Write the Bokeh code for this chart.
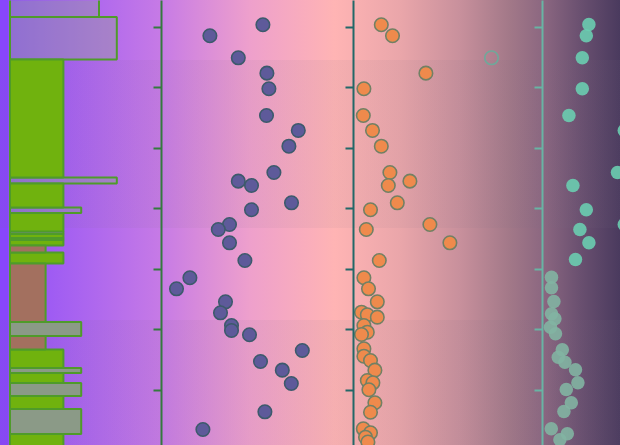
from bokeh.plotting import figure
from bokeh.layouts import row
from bokeh.models import Range1d, FixedTicker, ColumnDataSource
from bokeh.embed import file_html
from bokeh.resources import INLINE

# ---------------- data ----------------
tick_values = [0, 1, 2, 3, 4, 5, 6]
y_start, y_end = 6.909, -0.446          # bottom, top (values grow downward)

# panel 1: horizontal bars (row spans and lengths)
bar_top = [-0.612, -0.174, 0.529, 2.479, 2.579, 2.975, 3.066, 3.372, 3.413, 3.479, 3.512, 3.603,
           3.719, 3.901, 4.868, 5.099, 5.322, 5.628, 5.711, 5.876, 6.091, 6.306, 6.719]
bar_bottom = [-0.174, 0.529, 2.479, 2.579, 2.975, 3.066, 3.372, 3.413, 3.479, 3.512, 3.603, 3.719,
              3.901, 4.868, 5.099, 5.322, 5.628, 5.711, 5.876, 6.091, 6.306, 6.719, 7.157]
bar_value = [5, 6, 3, 6, 3, 4, 3, 3, 3, 3, 3, 2, 3, 2, 4, 2, 3, 4, 3, 4, 3, 4, 3]
bar_group = ["a", "a", "b", "a", "b", "a", "b", "a", "b", "a", "b", "c", "b", "c", "d", "c",
             "b", "d", "b", "d", "b", "d", "b"]

# panel 2: blue series
blue_x = [50.7, 24.2, 38.4, 52.7, 53.7, 52.5, 68.4, 63.7, 56.2, 38.4, 45.0, 65.0, 45.0, 34.0, 28.4,
          34.0, 41.7, 14.2, 7.5, 32.0, 29.5, 35.0, 35.0, 44.0, 70.4, 49.5, 60.4, 64.9, 51.7, 20.7]
blue_y = [-0.045, 0.137, 0.501, 0.755, 1.013, 1.455, 1.702, 1.962, 2.397, 2.540, 2.612, 2.898,
          3.013, 3.256, 3.339, 3.559, 3.851, 4.137, 4.319, 4.534, 4.716, 4.926, 5.008, 5.079,
          5.339, 5.521, 5.664, 5.884, 6.352, 6.645]

# panel 3: orange series
orange_x = [13.9, 19.5, 36.2, 5.2, 4.9, 9.5, 13.9, 18.2, 28.2, 17.4, 21.9, 8.5, 38.2, 6.4, 48.2,
            12.9, 5.2, 7.5, 11.9, 4.0, 6.9, 11.9, 5.2, 6.9, 4.0, 5.2, 5.2, 8.5, 10.7, 6.9, 9.7,
            7.7, 10.7, 8.5, 4.9, 8.5, 6.0, 7.2]
orange_y = [-0.045, 0.137, 0.755, 1.013, 1.455, 1.702, 1.962, 2.397, 2.540, 2.612, 2.898, 3.013,
            3.256, 3.339, 3.559, 3.851, 4.137, 4.319, 4.534, 4.706, 4.749, 4.788, 4.926, 5.036,
            5.074, 5.311, 5.433, 5.504, 5.664, 5.835, 5.873, 5.988, 6.203, 6.359, 6.633, 6.699,
            6.772, 6.851]
flagged_x = [69.0]
flagged_y = [0.501]

# panel 4: teal series (upper group and lower group)
teal_x = [23.2, 21.9, 19.9, 19.9, 13.2, 40.9, 37.5, 15.2, 21.9, 40.9, 18.7, 23.2, 16.5]
teal_y = [-0.05, 0.137, 0.501, 1.013, 1.455, 1.702, 2.397, 2.612, 3.013, 3.256, 3.339, 3.559,
          3.835]
sage_x = [4.5, 4.5, 5.7, 4.5, 6.2, 4.0, 6.5, 9.9, 7.9, 11.2, 16.5, 17.7, 11.9, 14.4, 10.7, 4.4,
          12.4, 8.7]
sage_y = [4.127, 4.302, 4.529, 4.732, 4.815, 4.954, 5.063, 5.327, 5.450, 5.532, 5.658, 5.873,
          5.983, 6.203, 6.347, 6.633, 6.716, 6.815]

# ---------------- styles ----------------
H = 445
group_style = {
    "a": dict(fill_color="#90aa89", fill_alpha=0.35),
    "b": dict(fill_color="#70b20e", fill_alpha=1.0),
    "c": dict(fill_color="#a3705f", fill_alpha=1.0),
    "d": dict(fill_color="#8b9a87", fill_alpha=1.0),
}


def make_fig(width, border_left, x_start, x_end, axis_color=None):
    p = figure(width=width, height=H, x_range=Range1d(x_start, x_end),
               y_range=Range1d(y_start, y_end), output_backend="svg",
               toolbar_location=None, x_axis_location=None,
               y_axis_location="left" if axis_color else None,
               min_border_left=border_left, min_border_right=0,
               min_border_top=0, min_border_bottom=0)
    p.background_fill_color = None
    p.border_fill_color = None
    p.outline_line_color = None
    p.grid.visible = False
    if axis_color:
        ax = p.yaxis[0]
        ax.ticker = FixedTicker(ticks=tick_values)
        ax.major_label_overrides = {t: "" for t in tick_values}
        ax.major_label_standoff = 0
        ax.axis_line_color = axis_color
        ax.axis_line_width = 2
        ax.major_tick_line_color = axis_color
        ax.major_tick_line_width = 2
        ax.major_tick_out = 8
        ax.major_tick_in = 0
        ax.minor_tick_line_color = None
    return p


# panel 1
p1 = make_fig(150, 0, -0.534, 7.893)
for g, st in group_style.items():
    idx = [i for i, k in enumerate(bar_group) if k == g]
    src = ColumnDataSource(dict(top=[bar_top[i] for i in idx],
                                bottom=[bar_bottom[i] for i in idx],
                                right=[bar_value[i] for i in idx]))
    p1.quad(left=0, right="right", top="top", bottom="bottom", source=src,
            line_color="#4f9b2a", line_width=2, **st)

# panel 2
p2 = make_fig(192, 11, 0, 90.5, axis_color="#347a3e")
p2.scatter(blue_x, blue_y, size=13.5, fill_color="#5e5a9a", line_color="#3d5a6c",
           line_width=1.6)

# panel 3
p3 = make_fig(190, 11, 0, 89.5, axis_color="#236868")
p3.scatter(flagged_x, flagged_y, size=13.5, fill_alpha=0, line_color="#6fa89a", line_width=1.6)
p3.scatter(orange_x, orange_y, size=13.5, fill_color="#ef8a4c", line_color="#728064",
           line_width=1.6)

# panel 4
p4 = make_fig(88, 10, 0, 39, axis_color="#68b4a4")
p4.scatter(teal_x, teal_y, size=13.5, fill_color="#6acdb0", fill_alpha=0.9, line_color=None)
p4.scatter(sage_x, sage_y, size=13.5, fill_color="#82b4a2", fill_alpha=0.9, line_color=None)

layout = row(p1, p2, p3, p4)
band = "rgba(120,105,128,0.07)"
clear = "rgba(0,0,0,0)"
layout.styles = {
    "position": "absolute", "left": "0px", "top": "0px",
    "background": (
        f"linear-gradient(to bottom, {clear} 0px, {clear} 60px, {band} 60px, {band} 228px, "
        f"{clear} 228px, {clear} 320px, {band} 320px, {band} 445px), "
        "linear-gradient(to right, #8846fc 0px, #8846fc 8px, #9050f8 8px, #b46cec 110px, "
        "#c67ae6 160px, #eea0cc 250px, #ffb4b4 335px, #eaa6aa 400px, #c8909c 460px, "
        "#a27888 510px, #8a6680 545px, #6a5070 580px, #4a3a5e 620px)"
    ),
}

open("out.html", "w").write(file_html(layout, INLINE))
